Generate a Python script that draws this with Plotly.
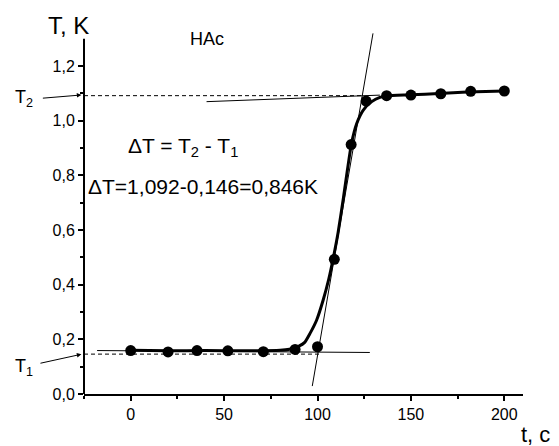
import plotly.graph_objects as go

# measured data points
t_pts = [0, 20, 35.5, 52, 71, 88, 100, 109, 118, 126, 137, 150, 166, 182, 200]
T_pts = [0.159, 0.154, 0.159, 0.158, 0.155, 0.163, 0.173, 0.493, 0.913, 1.072, 1.092, 1.094, 1.099, 1.108, 1.109]

# fitted curve
fit_t = [0, 20, 40, 60, 80, 85, 90, 93, 96, 99.5, 103, 106, 108.4, 111, 113.8, 116, 118.2, 121, 124.5, 129, 133.4, 137, 150, 165, 180, 200]
fit_T = [0.160, 0.158, 0.159, 0.158, 0.160, 0.164, 0.175, 0.188, 0.222, 0.27, 0.343, 0.42, 0.496, 0.59, 0.715, 0.82, 0.917, 0.99, 1.039, 1.07, 1.086, 1.091, 1.095, 1.100, 1.105, 1.109]

# construction lines
low_t = [-18, 128]
low_T = [0.159, 0.152]
up_t = [40.6, 133.4]
up_T = [1.070, 1.094]
steep_t = [97.2, 129.7]
steep_T = [0.029, 1.32]
T2_dash_t = [-25, 125]
T2_dash_T = [1.092, 1.092]
T1_dash_t = [-25, 101]
T1_dash_T = [0.146, 0.146]

x_ticks = [0, 50, 100, 150, 200]
y_ticks = [0.0, 0.2, 0.4, 0.6, 0.8, 1.0, 1.2]

FONT = "Arial, Liberation Sans, sans-serif"

fig = go.Figure()
thin = dict(color="black", width=1)
fig.add_trace(go.Scatter(x=T2_dash_t, y=T2_dash_T, mode="lines", line=dict(color="black", width=1, dash="4px,3px")))
fig.add_trace(go.Scatter(x=T1_dash_t, y=T1_dash_T, mode="lines", line=dict(color="black", width=1, dash="4px,3px")))
fig.add_trace(go.Scatter(x=low_t, y=low_T, mode="lines", line=thin))
fig.add_trace(go.Scatter(x=up_t, y=up_T, mode="lines", line=thin))
fig.add_trace(go.Scatter(x=steep_t, y=steep_T, mode="lines", line=thin))
fig.add_trace(go.Scatter(x=fit_t, y=fit_T, mode="lines", line=dict(color="black", width=3, shape="spline", smoothing=0.6)))
fig.add_trace(go.Scatter(x=t_pts, y=T_pts, mode="markers", marker=dict(color="black", size=11)))

# y axis line (only up to 1.3)
fig.add_shape(type="line", xref="paper", yref="y", x0=0, x1=0, y0=0, y1=1.3,
              line=dict(color="black", width=2))

ann = []
def txt(x, y, s, size, ref="paper", xanchor="center", yanchor="middle"):
    ann.append(dict(x=x, y=y, xref=ref, yref=ref if ref == "paper" else "y", text=s, showarrow=False,
                    font=dict(family=FONT, size=size, color="black"),
                    xanchor=xanchor, yanchor=yanchor))

txt(-0.035, 1.0166, "T, K", 24)
txt(40.7, 1.301, "HAc", 18, ref="x")
txt(-2.5, 0.905, "ΔT = T<sub>2</sub> - T<sub>1</sub>", 21, ref="x", xanchor="left")
txt(-24.1, 0.758, "ΔT=1,092-0,146=0,846K", 21, ref="x", xanchor="left")
txt(1.029, -0.1114, "t, c", 22)
txt(-0.1627, 0.815, "T<sub>2</sub>", 18, xanchor="left")
txt(-0.1627, 0.073, "T<sub>1</sub>", 18, xanchor="left")

for (hx, hy, dx, dy) in [(-0.006, 0.826, -40, 3.3), (-0.006, 0.1098, -42.4, 9.3)]:
    ann.append(dict(x=hx, y=hy, ax=dx, ay=dy, xref="paper", yref="paper",
                    text="", showarrow=True, arrowhead=2, arrowsize=0.9, arrowwidth=1,
                    arrowcolor="black", standoff=0))

# figure is offset by the page's 8px body margin, so size/margins compensate
fig.update_layout(
    width=551, height=438,
    margin=dict(l=76, r=36, t=24, b=52),
    plot_bgcolor="white", paper_bgcolor="white",
    showlegend=False,
    separators=", ",
    font=dict(family=FONT, size=16, color="black"),
    annotations=ann,
    xaxis=dict(range=[-25, 210], tickvals=x_ticks, showgrid=False, zeroline=False,
               showline=True, linecolor="black", linewidth=2,
               ticks="outside", ticklen=5, tickwidth=1.5, tickcolor="black",
               tickfont=dict(family=FONT, size=16, color="black"),
               minor=dict(dtick=25, tick0=0, ticks="outside", ticklen=3, tickwidth=1.5, tickcolor="black")),
    yaxis=dict(range=[0, 1.325], tickvals=y_ticks, tickformat=".1f", showgrid=False, zeroline=False,
               showline=False,
               ticks="outside", ticklen=5, tickwidth=1.5, tickcolor="black",
               tickfont=dict(family=FONT, size=16, color="black"),
               minor=dict(tickvals=[0.1, 0.3, 0.5, 0.7, 0.9, 1.1], ticks="outside", ticklen=3, tickwidth=1.5, tickcolor="black")),
)

fig.write_html("out.html")
